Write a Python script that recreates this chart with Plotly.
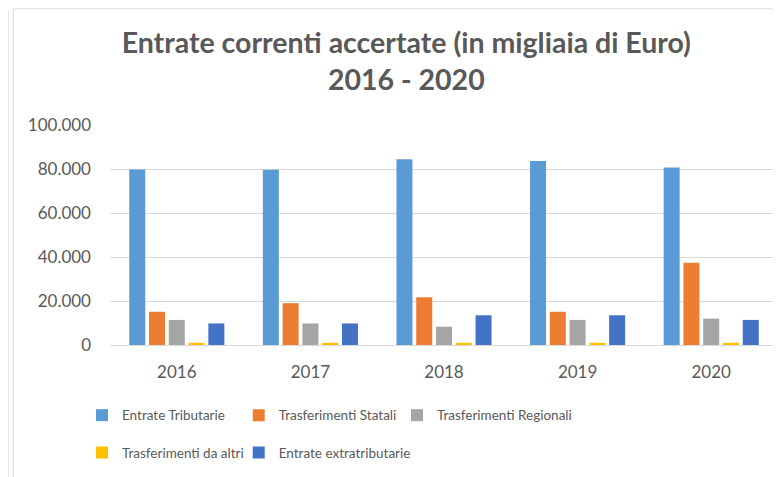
import plotly.graph_objects as go

# data (values in euro thousands)
years = ["2016", "2017", "2018", "2019", "2020"]
series_names = ["Entrate Tributarie", "Trasferimenti Statali", "Trasferimenti Regionali",
                "Trasferimenti da altri", "Entrate extratributarie"]
entrate_tributarie = [79800, 79700, 84400, 83600, 80700]
trasf_statali = [15100, 19000, 21700, 15100, 37400]
trasf_regionali = [11400, 9800, 8300, 11400, 12000]
trasf_altri = [1000, 1000, 1000, 1000, 1000]
entrate_extra = [9800, 9800, 13500, 13500, 11400]
y_ticks = [0, 20000, 40000, 60000, 80000, 100000]

all_series = [entrate_tributarie, trasf_statali, trasf_regionali, trasf_altri, entrate_extra]
colors = ["#5B9BD5", "#ED7D31", "#A5A5A5", "#FFC000", "#4472C4"]

txt = "#595959"
grid = "#D9D9D9"
font_fam = "Lato, Liberation Sans, sans-serif"

# one legend box per entry, laid out as 3 + 2 columns like the spreadsheet legend
leg_x = [-0.0419, 0.1927, 0.4296, -0.0419, 0.1927]
leg_y = [-0.32, -0.32, -0.32, -0.49, -0.49]
leg_ids = ["legend", "legend2", "legend3", "legend4", "legend5"]

fig = go.Figure()
for name, vals, col, lg in zip(series_names, all_series, colors, leg_ids):
    fig.add_trace(go.Bar(x=years, y=vals, name=name, legend=lg, showlegend=True,
                         marker=dict(color=col, line=dict(width=0))))

leg_font = dict(family=font_fam, size=13.5, color=txt)
legends = {}
for lg, lx, ly in zip(leg_ids, leg_x, leg_y):
    legends[lg] = dict(orientation="h", x=lx, xanchor="left", y=ly, yanchor="middle",
                       font=leg_font, itemwidth=30, bgcolor="rgba(0,0,0,0)")

fig.update_layout(
    width=781, height=477,
    margin=dict(l=102, r=11, t=117, b=140),
    paper_bgcolor="white", plot_bgcolor="white",
    separators=",.",
    showlegend=True,
    barmode="group", bargap=0.26, bargroupgap=0.19,
    title=dict(text="<b>Entrate correnti accertate (in migliaia di Euro)<br>2016 - 2020</b>",
               font=dict(family=font_fam, size=28.5, color=txt),
               x=0.51, xref="container", xanchor="center",
               y=0.906, yref="container", yanchor="middle"),
    **legends,
)

fig.update_xaxes(showgrid=False, showline=True, linecolor=grid, linewidth=1,
                 ticks="", tickfont=dict(family=font_fam, size=17, color=txt),
                 ticklabelstandoff=12)
fig.update_yaxes(range=[0, 100000], tickvals=y_ticks, tickformat=",d",
                 showgrid=True, gridcolor=grid, gridwidth=1,
                 zeroline=False, showline=False, ticks="",
                 tickfont=dict(family=font_fam, size=17, color=txt),
                 ticklabelstandoff=18)

# frame lines of the original spreadsheet chart box
frame = dict(color="#D9D9D9", width=1)
fig.add_shape(type="line", xref="paper", yref="paper", x0=-0.1525, x1=-0.1525,
              y0=1.52, y1=-0.65, line=frame)
fig.add_shape(type="line", xref="paper", yref="paper", x0=-0.145, x1=-0.145,
              y0=1.528, y1=-0.65, line=frame)
fig.add_shape(type="line", xref="paper", yref="paper", x0=-0.145, x1=1.02,
              y0=1.528, y1=1.528, line=frame)

fig.write_html("out.html")
